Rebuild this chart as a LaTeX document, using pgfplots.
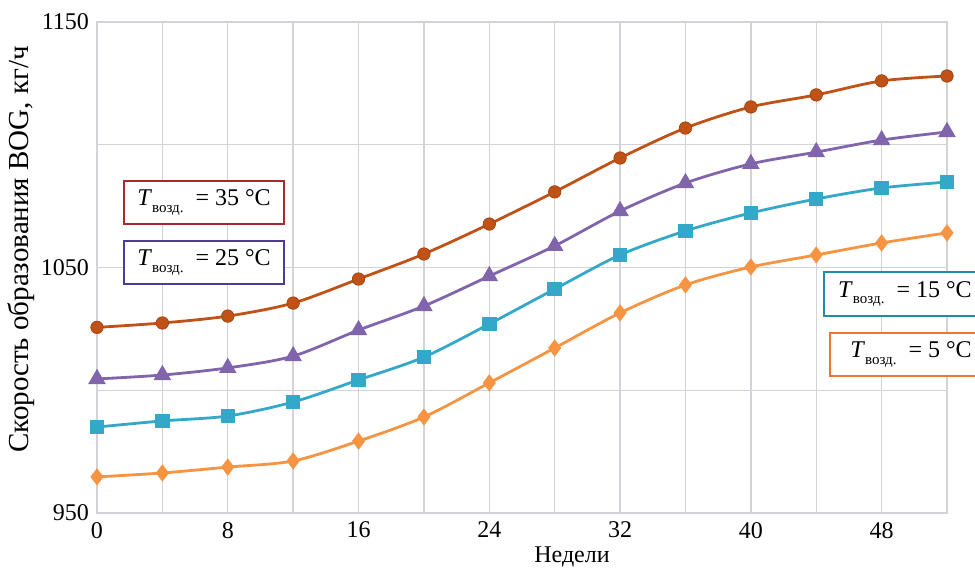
\documentclass[border=0pt]{standalone}
\usepackage{fontspec}
\setmainfont{Liberation Serif}
\usepackage{pgfplots}
\pgfplotsset{compat=1.18}

\definecolor{gridgray}{RGB}{210,210,216}
\definecolor{cbrown}{RGB}{192,82,22}
\definecolor{cpurple}{RGB}{128,100,172}
\definecolor{cteal}{RGB}{52,168,200}
\definecolor{corange}{RGB}{247,148,66}
\definecolor{bred}{RGB}{168,40,48}
\definecolor{bpurple}{RGB}{78,60,150}
\definecolor{bteal}{RGB}{30,140,170}
\definecolor{borange}{RGB}{240,118,48}

\newcommand{\tlab}[1]{\textit{T}\raisebox{-0.6ex}{\fontsize{7.5}{8}\selectfont возд.}\ \ =\ #1\ °C}

\begin{document}
\begin{tikzpicture}
\begin{axis}[
    name=main,
    scale only axis,
    width=425pt, height=245.5pt,
    xmin=0, xmax=52, ymin=950, ymax=1150,
    xtick={0,8,...,48}, minor xtick={4,12,...,52},
    ytick={950,1050,1150}, minor ytick={1000,1100},
    grid=both,
    major grid style={draw=gridgray, line width=0.7pt},
    minor grid style={draw=gridgray, line width=0.7pt},
    axis line style={draw=gridgray, line width=0.7pt},
    major tick length=0pt, minor tick length=0pt,
    tick label style={font=\fontsize{12}{13}\selectfont},
    /pgf/number format/assume math mode=true,
    /pgf/number format/1000 sep={},
    xticklabel style={yshift=-1pt},
    yticklabel style={xshift=-0.5pt},
    clip=false,
]
\addplot[cbrown, line width=1.4pt, smooth, tension=0.5, mark=*, mark size=3.1pt, mark options={fill=cbrown, draw=cbrown!85!black, line width=0.4pt}] coordinates {
(0,1025.6) (4,1027.4) (8,1030.2) (12,1035.5) (16,1045.3) (20,1055.5) (24,1067.7)
(28,1080.8) (32,1094.6) (36,1106.8) (40,1115.4) (44,1120.3) (48,1126.0) (52,1128.0)};
\addplot[cpurple, line width=1.4pt, smooth, tension=0.5, mark=triangle*, mark size=3.7pt, mark options={fill=cpurple}] coordinates {
(0,1004.6) (4,1006.2) (8,1009.1) (12,1013.9) (16,1024.5) (20,1034.3) (24,1046.5)
(28,1058.8) (32,1073.0) (36,1084.4) (40,1092.2) (44,1097.0) (48,1101.9) (52,1105.2)};
\addplot[cteal, line width=1.4pt, smooth, tension=0.5, mark=square*, mark size=2.9pt, mark options={fill=cteal}] coordinates {
(0,985.0) (4,987.5) (8,989.5) (12,995.2) (16,1004.2) (20,1013.5) (24,1027.0)
(28,1041.2) (32,1055.1) (36,1064.9) (40,1072.2) (44,1077.9) (48,1082.4) (52,1084.8)};
\addplot[corange, line width=1.4pt, smooth, tension=0.5, mark=diamond*, mark size=3.2pt, mark options={fill=corange}] coordinates {
(0,964.7) (4,966.3) (8,968.7) (12,971.2) (16,979.3) (20,989.1) (24,1003.0)
(28,1017.2) (32,1031.5) (36,1042.9) (40,1050.2) (44,1055.1) (48,1060.0) (52,1064.1)};

\node[draw=bred, line width=1pt, fill=white, minimum width=80pt, minimum height=21.5pt, anchor=west, font=\fontsize{12}{13}\selectfont] at (axis cs:1.59,1076.5) {\tlab{35}};
\node[draw=bpurple, line width=1pt, fill=white, minimum width=80pt, minimum height=21.5pt, anchor=west, font=\fontsize{12}{13}\selectfont] at (axis cs:1.59,1052.0) {\tlab{25}};
\node[draw=bteal, line width=1pt, fill=white, minimum width=81pt, minimum height=22pt, anchor=west, font=\fontsize{12}{13}\selectfont] at (axis cs:44.41,1039.2) {\tlab{15}};
\node[draw=borange, line width=1pt, fill=white, minimum width=81pt, minimum height=21.5pt, anchor=west, font=\fontsize{12}{13}\selectfont] at (axis cs:44.78,1014.6) {\tlab{5}};

\node[rotate=90, font=\fontsize{14.5}{16}\selectfont] at ([xshift=-38pt]rel axis cs:0,0.5365) {Скорость образования BOG, кг/ч};
\node[font=\fontsize{12}{13}\selectfont] at ([yshift=-22pt]axis cs:29.06,950) {Недели};
\end{axis}
\pgfresetboundingbox
\path[use as bounding box] ([xshift=-48.5pt,yshift=-28.5pt]main.south west) rectangle ([xshift=14pt,yshift=11pt]main.north east);
\end{tikzpicture}
\end{document}
